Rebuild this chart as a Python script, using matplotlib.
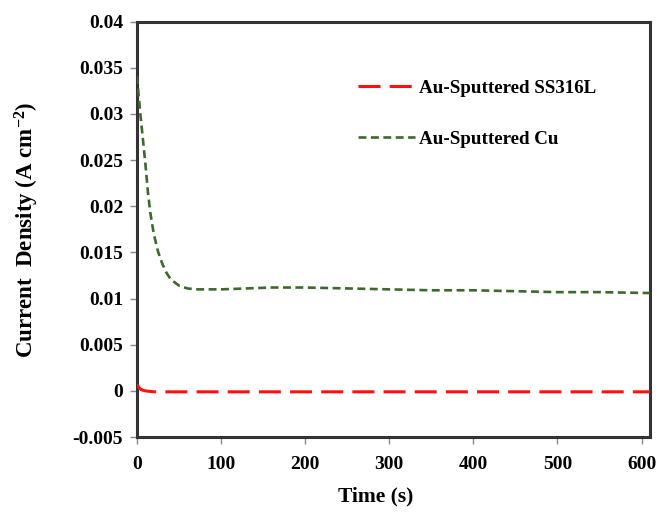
import numpy as np
import matplotlib
matplotlib.use('Agg')
import matplotlib.pyplot as plt

# Data
t_cu = [0, 2, 4, 6, 8, 10, 13, 16, 20, 25, 30, 35, 40, 50, 60, 70, 80, 100,
        130, 160, 200, 250, 300, 350, 400, 450, 500, 550, 610]
j_cu = [0.0341, 0.0320, 0.0300, 0.0282, 0.0264, 0.0246, 0.0215, 0.0192, 0.0170,
        0.0151, 0.0138, 0.0128, 0.0121, 0.0114, 0.0111, 0.0110, 0.0110, 0.0110,
        0.0111, 0.0112, 0.0112, 0.0111, 0.0110, 0.0109, 0.0109, 0.0108, 0.0107,
        0.0107, 0.0106]

t_ss = [0, 2, 4, 6, 10, 15, 20, 100, 200, 300, 400, 500, 610]
j_ss = [0.0007, 0.0004, 0.0002, 0.0001, 0.0, -0.00005, -0.0001, -0.0001,
        -0.0001, -0.0001, -0.0001, -0.0001, -0.0001]

labels = ['Au-Sputtered SS316L', 'Au-Sputtered Cu']
xticks = [0, 100, 200, 300, 400, 500, 600]
yticks = [-0.005, 0, 0.005, 0.01, 0.015, 0.02, 0.025, 0.03, 0.035, 0.04]
ytick_labels = ['-0.005', '0', '0.005', '0.01', '0.015', '0.02', '0.025',
                '0.03', '0.035', '0.04']

plt.rcParams['font.family'] = ['Liberation Serif', 'DejaVu Serif']
plt.rcParams['font.weight'] = 'bold'
plt.rcParams['mathtext.default'] = 'regular'

fig = plt.figure(figsize=(6.57, 5.16), dpi=100)
ax = fig.add_axes([0.2085, 0.153, 0.7808, 0.805])

ax.plot(t_ss, j_ss, color='#ff1010', lw=2.2, dashes=(7.2, 3.0), label=labels[0], zorder=3)
ax.plot(t_cu, j_cu, color='#3d6a2c', lw=1.9, dashes=(3.0, 1.7), label=labels[1], zorder=3)

ax.set_xlim(0, 610)
ax.set_ylim(-0.005, 0.04)
ax.set_xticks(xticks)
ax.set_yticks(yticks)
ax.set_yticklabels(ytick_labels)
ax.tick_params(axis='both', direction='out', length=5, width=1, color='#888888',
               labelsize=14, pad=5)
ax.tick_params(axis='x', pad=9)
for lab in ax.get_xticklabels() + ax.get_yticklabels():
    lab.set_fontweight('bold')
for s in ax.spines.values():
    s.set_linewidth(2.2)
    s.set_color('#333333')

ax.set_xlabel('Time (s)', fontsize=15.5, fontweight='bold')
ax.xaxis.set_label_coords(0.465, -0.12)
ax.set_ylabel('Current  Density (A cm$^{-2}$)', fontsize=16.5, fontweight='bold')
ax.yaxis.set_label_coords(-0.188, 0.5)

ax.legend(loc='upper left', bbox_to_anchor=(0.43, 0.86), frameon=False,
          prop={'size': 13.7, 'weight': 'bold'}, handlelength=3.0,
          handletextpad=0.25, labelspacing=1.75, borderpad=0, borderaxespad=0)

fig.savefig('out.png', dpi=100)
